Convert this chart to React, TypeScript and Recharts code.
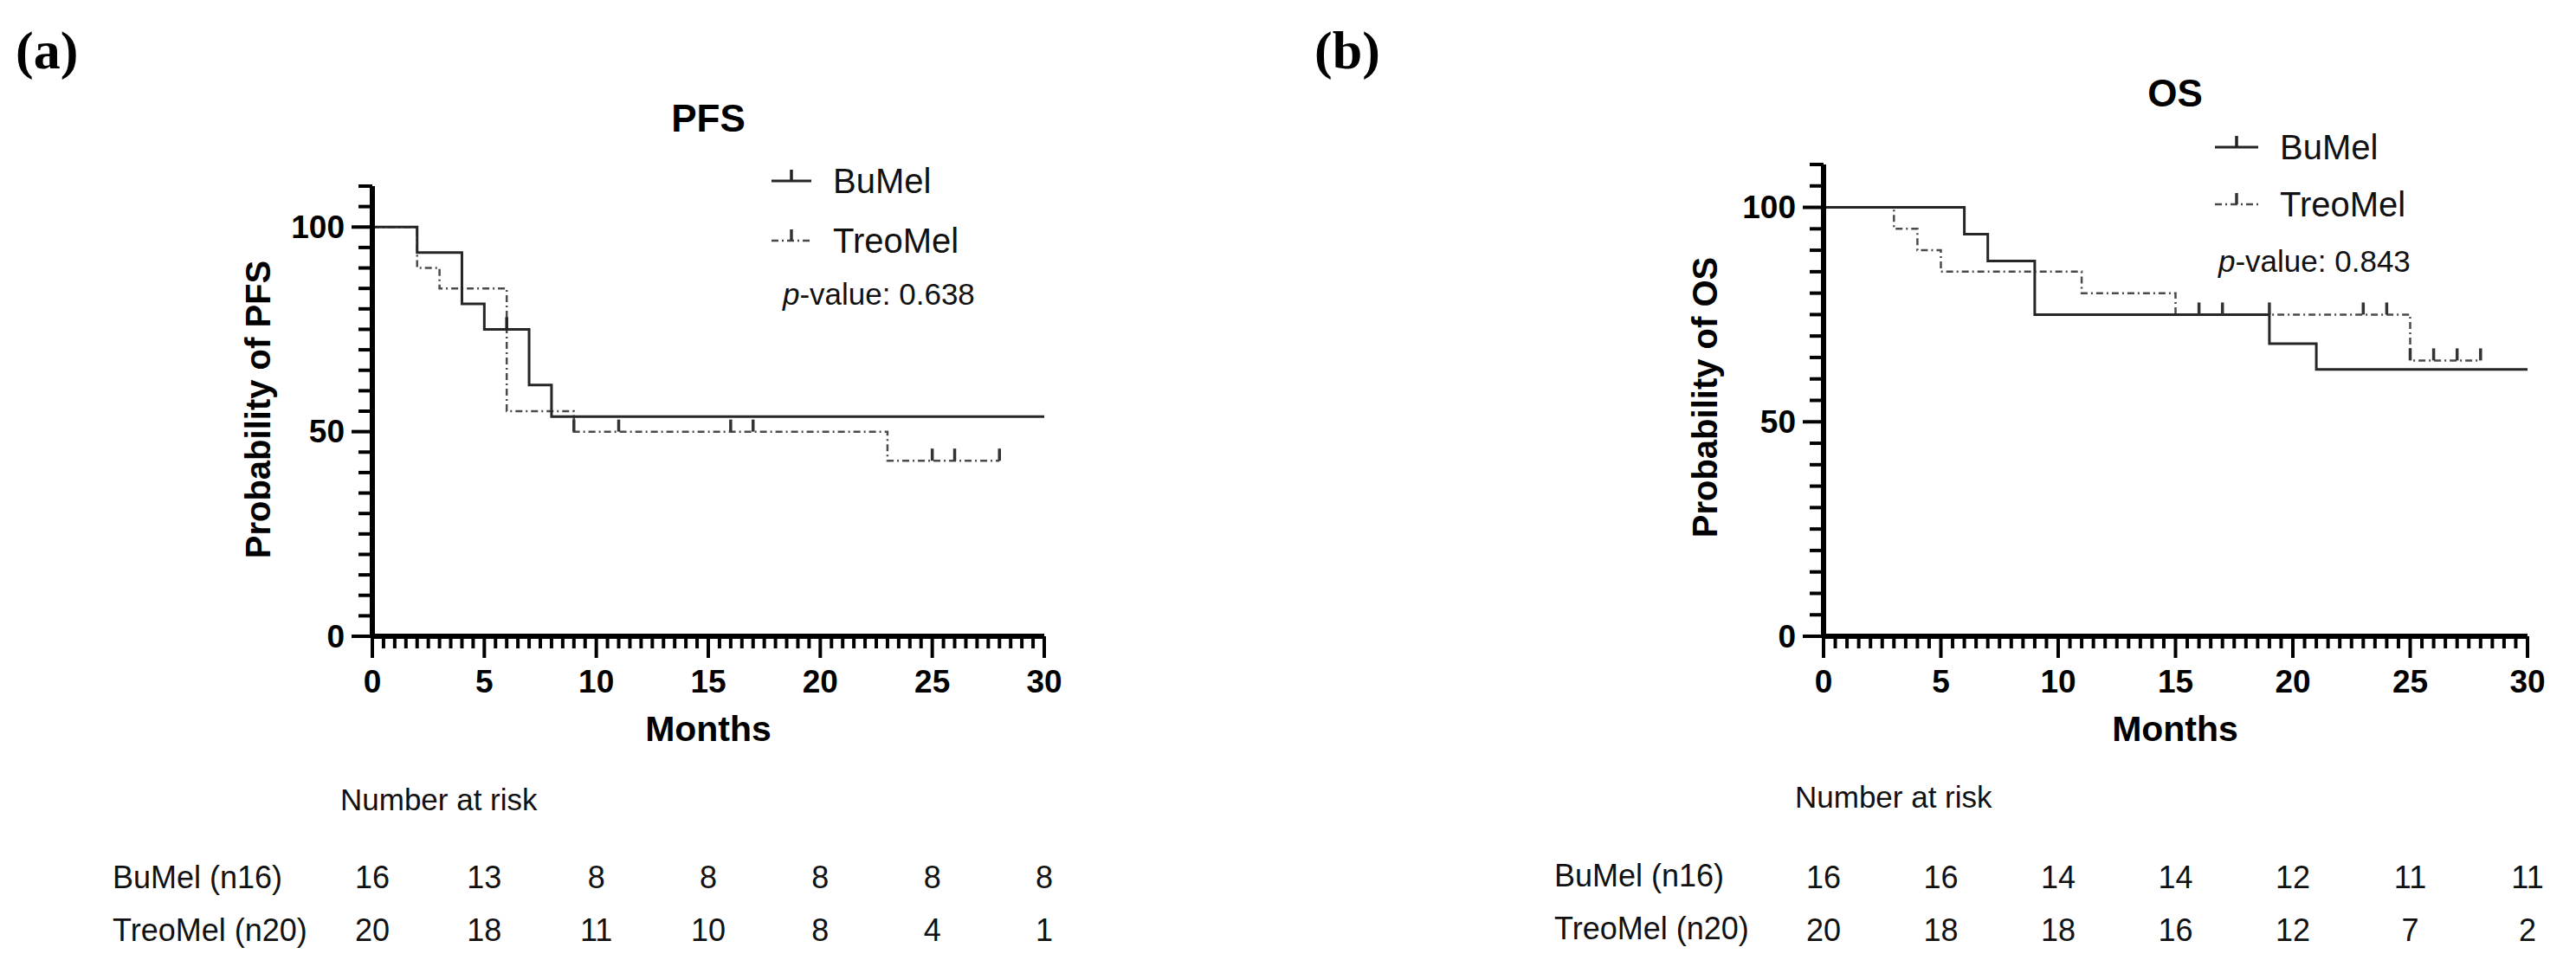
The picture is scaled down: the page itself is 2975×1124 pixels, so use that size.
import React from 'react';
import { ComposedChart, Line, XAxis, YAxis } from 'recharts';

// Kaplan-Meier step points, c = censored mark
const pfsBuMel = [
  { t: 0, s: 100 }, { t: 2, s: 93.75 }, { t: 4, s: 81.25 }, { t: 5, s: 75 },
  { t: 6, s: 75, c: true }, { t: 7, s: 61.4 }, { t: 8, s: 53.7 }, { t: 30, s: 53.7 },
];
const pfsTreoMel = [
  { t: 0, s: 100 }, { t: 2, s: 90 }, { t: 3, s: 85 }, { t: 6, s: 55 },
  { t: 9, s: 50, c: true }, { t: 11, s: 50, c: true }, { t: 16, s: 50, c: true },
  { t: 17, s: 50, c: true }, { t: 23, s: 42.9 }, { t: 25, s: 42.9, c: true },
  { t: 26, s: 42.9, c: true }, { t: 28, s: 42.9, c: true },
];
const osBuMel = [
  { t: 0, s: 100 }, { t: 6, s: 93.75 }, { t: 7, s: 87.5 }, { t: 9, s: 75 },
  { t: 19, s: 68.2 }, { t: 21, s: 62.2 }, { t: 30, s: 62.2 },
];
const osTreoMel = [
  { t: 0, s: 100 }, { t: 3, s: 95 }, { t: 4, s: 90 }, { t: 5, s: 85 },
  { t: 11, s: 80 }, { t: 15, s: 75 }, { t: 16, s: 75, c: true }, { t: 17, s: 75, c: true },
  { t: 19, s: 75, c: true }, { t: 23, s: 75, c: true }, { t: 24, s: 75, c: true },
  { t: 25, s: 64.3, c: true }, { t: 26, s: 64.3, c: true }, { t: 27, s: 64.3, c: true },
  { t: 28, s: 64.3, c: true },
];

const riskMonths = [0, 5, 10, 15, 20, 25, 30];
const pfsRiskBuMel = [16, 13, 8, 8, 8, 8, 8];
const pfsRiskTreoMel = [20, 18, 11, 10, 8, 4, 1];
const osRiskBuMel = [16, 16, 14, 14, 12, 11, 11];
const osRiskTreoMel = [20, 18, 18, 16, 12, 7, 2];

const xTicks = Array.from({ length: 61 }, (_, i) => i * 0.5);
const yTicks = Array.from({ length: 23 }, (_, i) => i * 5);

const FONT = '"Liberation Sans", Arial, Helvetica, sans-serif';
const H = 1124;
const PLOT_BOTTOM = 735;
const Y_AXIS_W = 60;
const X_AXIS_H = 60;

function XTick(props: any) {
  const { x, y, payload, riskA, riskB } = props;
  const v = payload.value;
  const major = v % 5 === 0;
  const idx = riskMonths.indexOf(v);
  return (
    <g>
      <line x1={x} x2={x} y1={y} y2={y + (major ? 25 : 14)} stroke="#000" strokeWidth={4} />
      {major && (
        <text x={x} y={y + 52} textAnchor="middle" dominantBaseline="central"
          fontSize={37} fontWeight="bold" fontFamily={FONT} fill="#000">{v}</text>
      )}
      {idx >= 0 && (
        <text x={x} y={y + 278} textAnchor="middle" dominantBaseline="central"
          fontSize={36} fontFamily={FONT} fill="#111">{riskA[idx]}</text>
      )}
      {idx >= 0 && (
        <text x={x} y={y + 339} textAnchor="middle" dominantBaseline="central"
          fontSize={36} fontFamily={FONT} fill="#111">{riskB[idx]}</text>
      )}
    </g>
  );
}

function YTick(props: any) {
  const { x, y, payload } = props;
  const v = payload.value;
  const major = v % 50 === 0;
  return (
    <g>
      <line x1={x} x2={x - (major ? 24 : 16)} y1={y} y2={y} stroke="#000" strokeWidth={4} />
      {major && (
        <text x={x - 32} y={y} textAnchor="end" dominantBaseline="central"
          fontSize={37} fontWeight="bold" fontFamily={FONT} fill="#000">{v}</text>
      )}
    </g>
  );
}

const censorDot = (color: string) => (props: any) => {
  const { cx, cy, payload, key } = props;
  if (!payload || !payload.c) return <g key={key} />;
  return <line key={key} x1={cx} x2={cx} y1={cy} y2={cy - 14} stroke={color} strokeWidth={3.5} />;
};

function KMPanel(props: any) {
  const { left, width, plotLeft, plotRight, plotTop, buMel, treoMel, riskBu, riskTreo } = props;
  return (
    <div style={{ position: 'absolute', left, top: 0 }}>
      <ComposedChart
        width={width}
        height={H}
        margin={{
          left: plotLeft - left - Y_AXIS_W,
          right: left + width - plotRight,
          top: plotTop,
          bottom: H - PLOT_BOTTOM - X_AXIS_H,
        }}
      >
        <XAxis
          type="number"
          dataKey="t"
          domain={[0, 30]}
          ticks={xTicks}
          interval={0}
          height={X_AXIS_H}
          tickSize={0}
          tickMargin={0}
          tickLine={false}
          axisLine={{ stroke: '#000', strokeWidth: 6 }}
          tick={(p: any) => <XTick {...p} riskA={riskBu} riskB={riskTreo} />}
        />
        <YAxis
          type="number"
          domain={[0, 110]}
          ticks={yTicks}
          interval={0}
          width={Y_AXIS_W}
          tickSize={0}
          tickMargin={0}
          tickLine={false}
          axisLine={{ stroke: '#000', strokeWidth: 6 }}
          tick={(p: any) => <YTick {...p} />}
        />
        <Line
          data={treoMel}
          dataKey="s"
          type="stepAfter"
          stroke="#4a4a4a"
          strokeWidth={2.5}
          strokeDasharray="8 4 2 4"
          dot={censorDot('#333')}
          activeDot={false}
          isAnimationActive={false}
        />
        <Line
          data={buMel}
          dataKey="s"
          type="stepAfter"
          stroke="#262626"
          strokeWidth={3}
          dot={censorDot('#222')}
          activeDot={false}
          isAnimationActive={false}
        />
      </ComposedChart>
    </div>
  );
}

function Legend(props: any) {
  const { x1, x2, y1, y2, tx } = props;
  const mid = (x1 + x2) / 2;
  return (
    <g>
      <line x1={x1} x2={x2} y1={y1} y2={y1} stroke="#262626" strokeWidth={3} />
      <line x1={mid} x2={mid} y1={y1} y2={y1 - 13} stroke="#222" strokeWidth={3.5} />
      <text x={tx} y={y1} dominantBaseline="central" fontSize={40} fontFamily={FONT} fill="#111">BuMel</text>
      <line x1={x1} x2={x2} y1={y2} y2={y2} stroke="#4a4a4a" strokeWidth={2.5} strokeDasharray="8 4 2 4" />
      <line x1={mid} x2={mid} y1={y2} y2={y2 - 13} stroke="#333" strokeWidth={3.5} />
      <text x={tx} y={y2} dominantBaseline="central" fontSize={40} fontFamily={FONT} fill="#111">TreoMel</text>
    </g>
  );
}

function Labels(props: any) {
  const p = props;
  return (
    <g fontFamily={FONT} fill="#000">
      <text x={p.tagX} y={58} dominantBaseline="central" fontSize={62} fontWeight="bold"
        fontFamily='"Liberation Serif", "Times New Roman", serif'>{p.tag}</text>
      <text x={p.cx} y={p.titleY} textAnchor="middle" dominantBaseline="central" fontSize={44} fontWeight="bold">{p.title}</text>
      <Legend x1={p.legX1} x2={p.legX2} y1={p.legY1} y2={p.legY2} tx={p.legTx} />
      <text x={p.pX} y={p.pY} dominantBaseline="central" fontSize={35} fill="#111">
        <tspan fontStyle="italic">p</tspan>-value: {p.pValue}
      </text>
      <text x={p.ylX} y={p.ylY} transform={`rotate(-90, ${p.ylX}, ${p.ylY})`} textAnchor="middle"
        dominantBaseline="central" fontSize={40} fontWeight="bold">{p.yLabel}</text>
      <text x={p.cx} y={842} textAnchor="middle" dominantBaseline="central" fontSize={41} fontWeight="bold">Months</text>
      <text x={p.narX} y={p.narY} dominantBaseline="central" fontSize={35} fill="#111">Number at risk</text>
      <text x={p.rowX} y={p.rowY1} dominantBaseline="central" fontSize={36} fill="#111">BuMel (n16)</text>
      <text x={p.rowX} y={p.rowY2} dominantBaseline="central" fontSize={36} fill="#111">TreoMel (n20)</text>
    </g>
  );
}

export default function App() {
  return (
    <div style={{ position: 'absolute', left: 0, top: 0, width: 2975, height: H, background: '#fff', overflow: 'hidden' }}>
      <KMPanel left={0} width={1400} plotLeft={430} plotRight={1206} plotTop={215}
        buMel={pfsBuMel} treoMel={pfsTreoMel} riskBu={pfsRiskBuMel} riskTreo={pfsRiskTreoMel} />
      <KMPanel left={1500} width={1475} plotLeft={2106} plotRight={2919} plotTop={190}
        buMel={osBuMel} treoMel={osTreoMel} riskBu={osRiskBuMel} riskTreo={osRiskTreoMel} />
      <svg width={2975} height={H} style={{ position: 'absolute', left: 0, top: 0, pointerEvents: 'none' }}>
        <Labels tag="(a)" tagX={18} title="PFS" cx={818} titleY={136}
          legX1={891} legX2={937} legY1={209} legY2={278} legTx={962}
          pX={904} pY={339} pValue="0.638"
          ylX={298} ylY={473} yLabel="Probability of PFS"
          narX={393} narY={923} rowX={130} rowY1={1013} rowY2={1074} />
        <Labels tag="(b)" tagX={1518} title="OS" cx={2512} titleY={107}
          legX1={2558} legX2={2608} legY1={170} legY2={236} legTx={2633}
          pX={2562} pY={301} pValue="0.843"
          ylX={1969} ylY={459} yLabel="Probability of OS"
          narX={2073} narY={920} rowX={1795} rowY1={1011} rowY2={1072} />
      </svg>
    </div>
  );
}
